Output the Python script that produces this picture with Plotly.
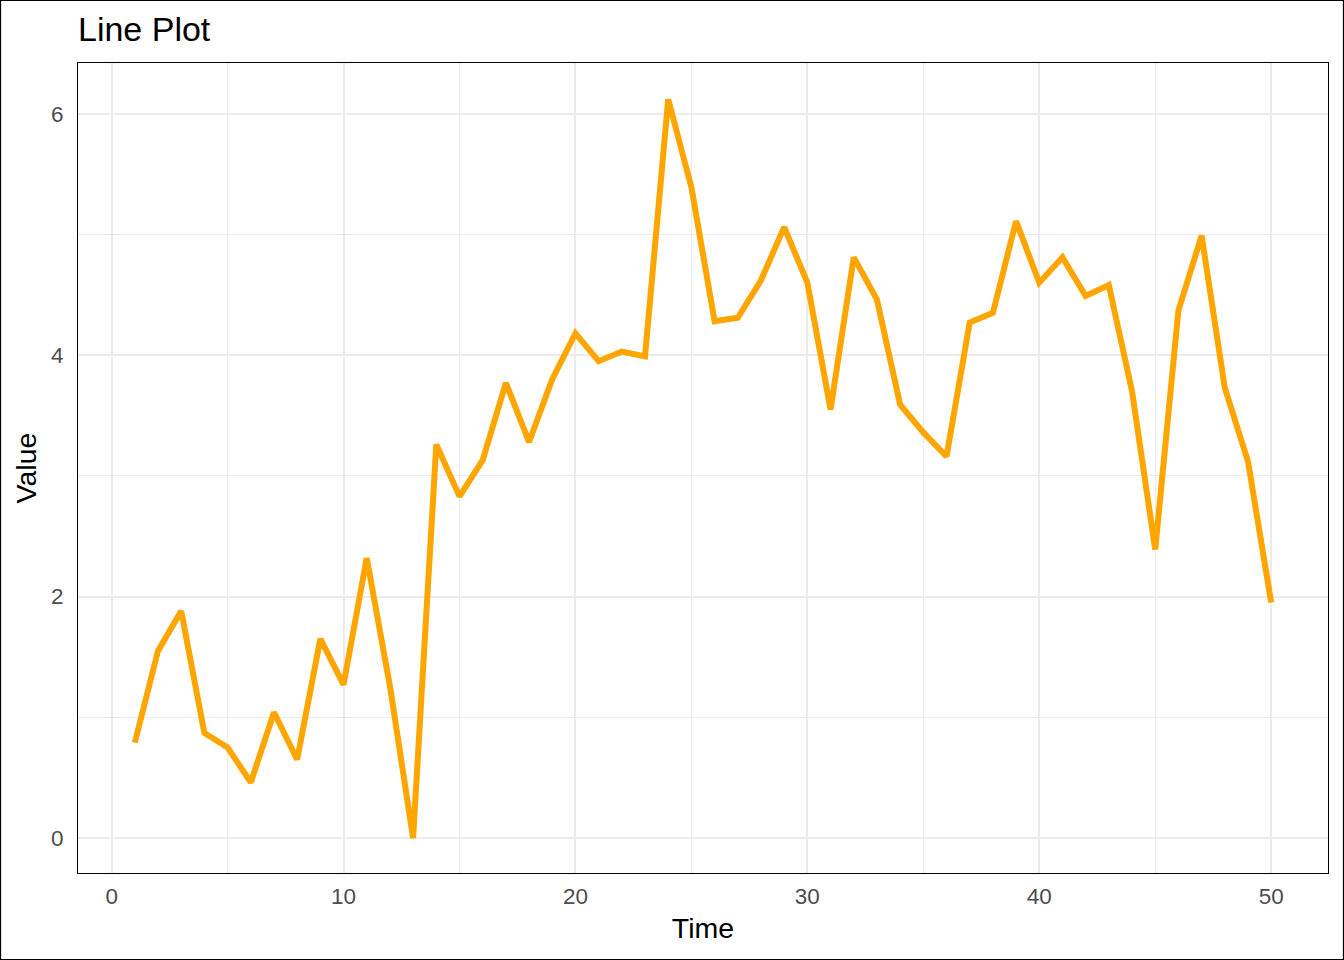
import plotly.graph_objects as go

time = list(range(1, 51))
values = [0.79, 1.55, 1.88, 0.87, 0.75, 0.46, 1.04, 0.65, 1.65, 1.27,
          2.32, 1.26, 0.00, 3.26, 2.83, 3.13, 3.77, 3.28, 3.80, 4.18,
          3.95, 4.03, 3.99, 6.12, 5.39, 4.28, 4.31, 4.62, 5.06, 4.60,
          3.55, 4.81, 4.46, 3.59, 3.36, 3.16, 4.27, 4.35, 5.11, 4.60,
          4.81, 4.49, 4.58, 3.70, 2.39, 4.37, 4.99, 3.73, 3.12, 1.95]
x_ticks = [0, 10, 20, 30, 40, 50]
y_ticks = [0, 2, 4, 6]

W, H = 1344, 960
L, R, T, B = 78, 16, 63, 87
pw, ph = W - L - R, H - T - B

fig = go.Figure()
fig.add_trace(go.Scatter(x=time, y=values, mode="lines",
                         line=dict(color="#FFA500", width=6),
                         showlegend=False))

font = "Liberation Sans, Arial, sans-serif"
fig.update_layout(
    width=W, height=H,
    margin=dict(l=L, r=R, t=T, b=B),
    paper_bgcolor="white", plot_bgcolor="white",
    font=dict(family=font, color="black"),
    title=dict(text="Line Plot", x=L / W, xanchor="left", y=1 - 29 / H, yanchor="middle",
               font=dict(size=34, color="black")),
    xaxis=dict(range=[-1.45, 52.45], tickvals=x_ticks, ticks="", showline=True,
               linecolor="black", linewidth=1.2, mirror=True, zeroline=False,
               gridcolor="#EBEBEB", gridwidth=2, ticklabelstandoff=3,
               minor=dict(tickvals=[5, 15, 25, 35, 45], showgrid=True, gridcolor="#EBEBEB", gridwidth=1),
               tickfont=dict(size=22.5, color="#4D4D4D"),
               title=dict(text="Time", font=dict(size=28.5, color="black"), standoff=9)),
    yaxis=dict(range=[-0.29, 6.42], tickvals=y_ticks, ticks="", showline=True,
               linecolor="black", linewidth=1.2, mirror=True, zeroline=False,
               gridcolor="#EBEBEB", gridwidth=2, ticklabelstandoff=9,
               minor=dict(tickvals=[1, 3, 5], showgrid=True, gridcolor="#EBEBEB", gridwidth=1),
               tickfont=dict(size=22.5, color="#4D4D4D"),
               title=dict(text="Value", font=dict(size=28.5, color="black"), standoff=5)),
)
# outer border around the whole image
fig.add_shape(type="rect", xref="paper", yref="paper",
              x0=(-L + 0.5) / pw, x1=1 + (R - 0.5) / pw,
              y0=(-B + 0.5) / ph, y1=1 + (T - 0.5) / ph,
              line=dict(color="black", width=1.2), layer="below")

fig.write_html("out.html", config={"displayModeBar": False},
               post_script="document.body.style.margin='0';document.body.style.overflow='hidden';")
